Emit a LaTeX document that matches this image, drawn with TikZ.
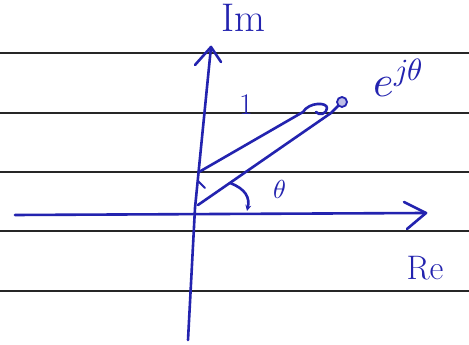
\documentclass[tikz,border=0pt]{standalone}
\usepackage{unicode-math}
\setmathfont{Latin Modern Math}
\usetikzlibrary{arrows.meta}
\definecolor{penblue}{RGB}{35,35,175}
\begin{document}
\begin{tikzpicture}[x=1pt,y=1pt,
  pen/.style={draw=penblue, line width=2.6pt, line cap=round, line join=round},
  ruled/.style={draw=black!85, line width=2.8pt},
  lbl/.style={text=penblue, inner sep=0pt}]
\useasboundingbox (0,0) rectangle (469,345);
\fill[white] (0,0) rectangle (469,345);
% ruled paper lines
\foreach \yy in {53,113,172,231,291}{
  \draw[ruled] (0,345-\yy) -- (469,345-\yy);
}
% imaginary axis
\coordinate (imB) at (188,5);
\coordinate (imO) at (195,137);
\coordinate (imT) at (211,298);
\draw[pen] (imB) -- (imO) -- (imT);
\coordinate (imHL) at (195,280);
\coordinate (imHR) at (221,283);
\draw[pen] (imHL) -- (imT) -- (imHR);
% real axis
\coordinate (reL) at (15,130);
\coordinate (reT) at (426,132);
\draw[pen] (reL) -- (reT);
\coordinate (reHU) at (404,143);
\coordinate (reHD) at (407,116);
\draw[pen] (reHU) -- (reT) -- (reHD);
% vector (double stroke)
\coordinate (vU0) at (199,173);
\coordinate (vU1) at (303,233);
\coordinate (vL0) at (198,140);
\coordinate (vL1) at (331,232);
\node[circle, draw=penblue, line width=1.8pt, fill=penblue!30, minimum size=10pt, inner sep=0pt] (dot) at (342,243) {};
\draw[pen] (vU0) -- (vU1) .. controls (309,243) and (327,243) .. (327,237)
  .. controls (327,231) and (319,229) .. (316,233);
\draw[pen] (vL0) -- (vL1) -- (dot.south west);
% small tick near origin
\coordinate (tk0) at (198,164);
\coordinate (tk1) at (205,157);
\draw[pen, line width=1.8pt] (tk0) -- (tk1);
% angle arc
\coordinate (an0) at (230,162);
\coordinate (an1) at (247,134);
\draw[pen, -{Stealth[length=6pt,width=6pt]}] (an0) .. controls (246,156) and (250,147) .. (an1);
% labels
\node[lbl, font=\fontsize{40}{40}\selectfont] (Im) at (243,327) {Im};
\node[lbl, font=\fontsize{44}{44}\selectfont] (ejt) at (398,267) {$e^{j\theta}$};
\node[lbl, font=\fontsize{30}{30}\selectfont] (one) at (246,240) {1};
\node[lbl, font=\fontsize{26}{26}\selectfont] (th) at (280,156) {$\theta$};
\node[lbl, font=\fontsize{34}{34}\selectfont] (Re) at (425,77) {Re};
\end{tikzpicture}
\end{document}
